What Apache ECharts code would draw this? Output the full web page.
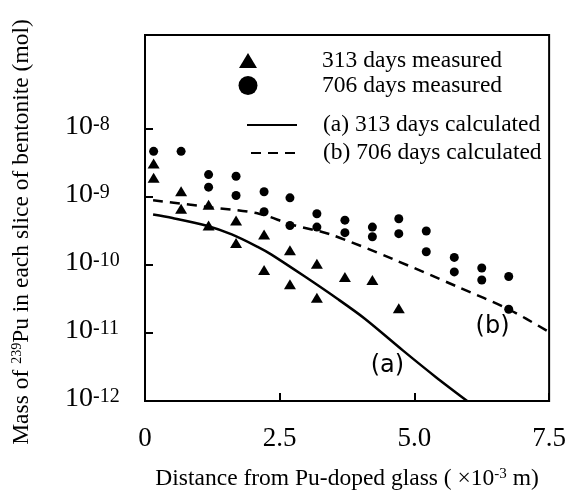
<!DOCTYPE html>
<html>
<head>
<meta charset="utf-8">
<script src="https://cdn.jsdelivr.net/npm/echarts@6/dist/echarts.min.js"></script>
<style>
html, body { margin: 0; padding: 0; background: #ffffff; }
#chart { width: 569px; height: 496px; }
</style>
</head>
<body>
<div id="chart"></div>
<script>
// distance (x 10^-3 m) and Pu mass (mol)
var tri313X = [0.16, 0.16, 0.67, 0.67, 1.18, 1.18, 1.69, 1.69, 2.21, 2.21, 2.69, 2.69, 3.19, 3.19, 3.71, 4.22, 4.71];
var tri313Y = [3.09e-9, 1.91e-9, 1.21e-9, 6.7e-10, 7.7e-10, 3.8e-10, 4.5e-10, 2.1e-10, 2.8e-10, 8.4e-11, 1.65e-10, 5.2e-11, 1.04e-10, 3.3e-11, 6.65e-11, 6.0e-11, 2.3e-11];

var circ706X = [0.16, 0.67, 1.18, 1.18, 1.69, 1.69, 2.21, 2.21, 2.69, 2.69, 3.19, 3.19, 3.71, 3.71, 4.22, 4.22, 4.71, 4.71, 5.22, 5.22, 5.74, 5.74, 6.25, 6.25, 6.75, 6.75];
var circ706Y = [4.68e-9, 4.68e-9, 2.13e-9, 1.39e-9, 2.01e-9, 1.05e-9, 1.19e-9, 6.05e-10, 9.7e-10, 3.8e-10, 5.65e-10, 3.6e-10, 4.55e-10, 2.98e-10, 3.6e-10, 2.6e-10, 4.78e-10, 2.88e-10, 3.16e-10, 1.56e-10, 1.29e-10, 7.9e-11, 9.0e-11, 6.0e-11, 6.76e-11, 2.23e-11];

var calcAX = [0.15, 0.51, 1.13, 1.61, 2.10, 2.34, 2.96, 3.57, 4.08, 4.79, 5.40, 5.98];
var calcAY = [5.52e-10, 4.9e-10, 3.8e-10, 2.81e-10, 1.83e-10, 1.43e-10, 6.8e-11, 3.18e-11, 1.62e-11, 5.5e-12, 2.24e-12, 1.0e-12];

var calcBX = [0.15, 1.13, 2.10, 2.71, 3.44, 4.61, 5.82, 6.75, 7.5];
var calcBY = [8.95e-10, 7.17e-10, 5.71e-10, 3.94e-10, 2.81e-10, 1.21e-10, 4.7e-11, 2.23e-11, 1.03e-11];

var seriesNames = ['313 days measured', '706 days measured', '(a) 313 days calculated', '(b) 706 days calculated'];
var annotText = ['(a)', '(b)'];
var annotX = [4.50, 6.45];
var annotY = [3.26e-12, 1.22e-11];

var yTicks = [-12, -11, -10, -9, -8];
var xTicks = ['0', '2.5', '5.0', '7.5'];

var serif = 'Liberation Serif';

function toPairs(xs, ys) {
    return xs.map(function (x, i) { return [x, Math.log10(ys[i])]; });
}

function legendFor(name, icon, left, top, w, h, gap) {
    var l = {
        data: [icon ? { name: name, icon: icon } : name],
        orient: 'vertical',
        left: left,
        top: top,
        itemWidth: w,
        itemHeight: h,
        padding: 0,
        selectedMode: false,
        textStyle: {
            fontFamily: serif,
            fontSize: 23.5,
            color: '#000',
            padding: [0, 0, 0, gap]
        }
    };
    if (!icon) {
        // line icons only, hide the symbol in the middle
        l.itemStyle = { opacity: 0 };
    }
    return l;
}

var chart = echarts.init(document.getElementById('chart'));

var option = {
    backgroundColor: '#ffffff',
    animation: false,
    grid: {
        left: 145,
        right: 14,
        top: 35,
        bottom: 94,
        show: true,
        borderColor: '#000',
        borderWidth: 2
    },
    legend: [
        legendFor(seriesNames[0], 'triangle', 239, 48.5, 18, 15, 60),
        legendFor(seriesNames[1], 'circle', 238.5, 73.5, 19, 19, 59.5),
        legendFor(seriesNames[2], null, 246, 113, 50, 14, 21),
        legendFor(seriesNames[3], null, 250, 141, 45, 14, 22)
    ],
    xAxis: {
        type: 'value',
        min: 0,
        max: 7.5,
        interval: 2.5,
        name: 'Distance from Pu-doped glass ( ×10{s|-3} m)',
        nameLocation: 'middle',
        nameGap: 66,
        nameTextStyle: {
            fontFamily: serif,
            fontSize: 23.5,
            color: '#000',
            rich: {
                s: { fontFamily: serif, fontSize: 15, color: '#000', verticalAlign: 'top' }
            }
        },
        axisLine: { show: true, lineStyle: { color: '#000', width: 2 } },
        axisTick: { show: true, inside: true, length: 8, lineStyle: { color: '#000', width: 2 } },
        splitLine: { show: false },
        axisLabel: {
            margin: 24,
            fontFamily: serif,
            fontSize: 27,
            color: '#000',
            formatter: function (v) {
                return xTicks[Math.round(v / 2.5)];
            }
        }
    },
    yAxis: {
        type: 'value',
        min: -12,
        max: -6.62,
        interval: 1,
        name: 'Mass of {t|239}Pu in each slice of bentonite (mol)',
        nameLocation: 'middle',
        nameGap: 111,
        nameTextStyle: {
            fontFamily: serif,
            fontSize: 23.5,
            color: '#000',
            padding: [0, 28, 0, 0],
            rich: {
                t: { fontFamily: serif, fontSize: 14, color: '#000', verticalAlign: 'top' }
            }
        },
        axisLine: { show: true, lineStyle: { color: '#000', width: 2 } },
        axisTick: {
            show: true,
            inside: true,
            length: 8,
            customValues: yTicks,
            lineStyle: { color: '#000', width: 2 }
        },
        splitLine: { show: false },
        axisLabel: {
            align: 'left',
            margin: 80,
            customValues: yTicks,
            formatter: function (v) {
                var e = Math.round(v);
                if (e > -8) {
                    return '';
                }
                return '{b|10}{s|' + e + '}';
            },
            rich: {
                b: { fontFamily: serif, fontSize: 28, lineHeight: 28, color: '#000', padding: [5, 0, 10, 0] },
                s: { fontFamily: serif, fontSize: 20, lineHeight: 20, color: '#000', verticalAlign: 'top' }
            }
        }
    },
    series: [
        {
            name: seriesNames[0],
            type: 'scatter',
            symbol: 'triangle',
            symbolSize: [12, 10],
            itemStyle: { color: '#000', opacity: 1 },
            data: toPairs(tri313X, tri313Y)
        },
        {
            name: seriesNames[1],
            type: 'scatter',
            symbol: 'circle',
            symbolSize: 9,
            itemStyle: { color: '#000', opacity: 1 },
            data: toPairs(circ706X, circ706Y)
        },
        {
            name: seriesNames[2],
            type: 'line',
            showSymbol: false,
            symbol: 'none',
            smooth: 0.3,
            lineStyle: { color: '#000', width: 2.5 },
            itemStyle: { color: '#000' },
            data: toPairs(calcAX, calcAY),
            markPoint: {
                symbol: 'circle',
                symbolSize: 1,
                silent: true,
                itemStyle: { color: 'rgba(0,0,0,0)' },
                label: {
                    show: true,
                    position: 'inside',
                    formatter: annotText[0],
                    fontFamily: 'DejaVu Sans',
                    fontSize: 24,
                    color: '#000'
                },
                data: [{ coord: [annotX[0], Math.log10(annotY[0])] }]
            }
        },
        {
            name: seriesNames[3],
            type: 'line',
            showSymbol: false,
            symbol: 'none',
            smooth: 0.3,
            lineStyle: { color: '#000', width: 2.5, type: [10, 7] },
            itemStyle: { color: '#000' },
            data: toPairs(calcBX, calcBY),
            markPoint: {
                symbol: 'circle',
                symbolSize: 1,
                silent: true,
                itemStyle: { color: 'rgba(0,0,0,0)' },
                label: {
                    show: true,
                    position: 'inside',
                    formatter: annotText[1],
                    fontFamily: 'DejaVu Sans',
                    fontSize: 24,
                    color: '#000'
                },
                data: [{ coord: [annotX[1], Math.log10(annotY[1])] }]
            }
        }
    ]
};

chart.setOption(option, true);
</script>
</body>
</html>
